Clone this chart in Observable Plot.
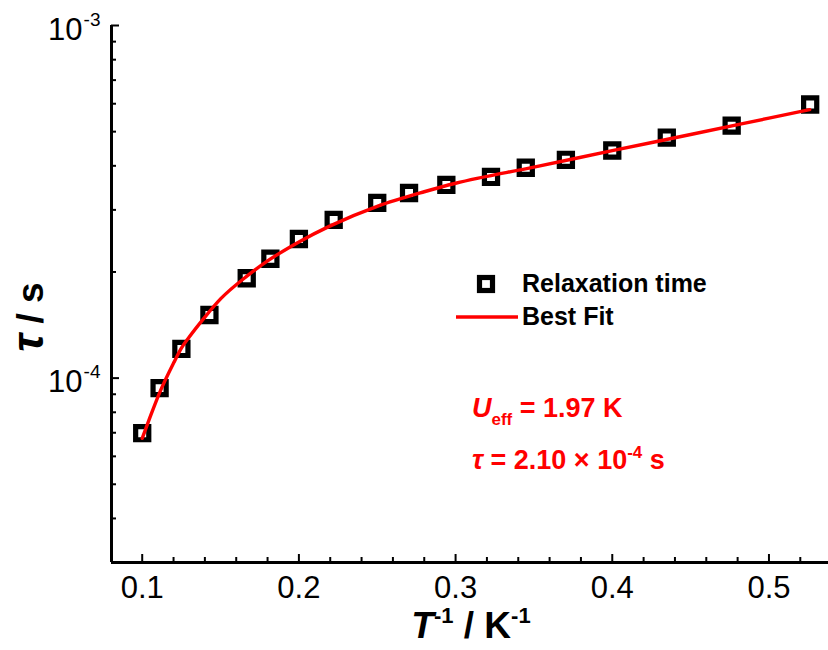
<!DOCTYPE html>
<html>
<head>
<meta charset="utf-8">
<script src="https://cdn.jsdelivr.net/npm/d3@7"></script>
<script src="https://cdn.jsdelivr.net/npm/@observablehq/plot@0.6"></script>
<style>
  html, body { margin: 0; padding: 0; background: #fff; }
  #chart svg { display: block; }
</style>
</head>
<body>
<div id="chart"></div>
<script>
// Measured points: inverse temperature (K^-1) and relaxation time (s)
const invT = [0.1, 0.1111, 0.125, 0.1429, 0.1667, 0.1818, 0.2, 0.2222, 0.25, 0.2703,
              0.2941, 0.3226, 0.3448, 0.3704, 0.4, 0.4348, 0.4762, 0.5263];
const tau = [6.98e-5, 9.37e-5, 1.21e-4, 1.51e-4, 1.92e-4, 2.18e-4, 2.48e-4, 2.81e-4, 3.14e-4, 3.35e-4,
             3.53e-4, 3.72e-4, 3.95e-4, 4.16e-4, 4.42e-4, 4.81e-4, 5.20e-4, 5.97e-4];

// Best-fit curve
const fitInvT = [0.1, 0.105, 0.111, 0.12, 0.125, 0.13, 0.14, 0.15, 0.167, 0.18,
                 0.2, 0.22, 0.25, 0.28, 0.3, 0.35, 0.4, 0.45, 0.5, 0.526];
const fitTau = [6.75e-5, 7.75e-5, 9.07e-5, 1.103e-4, 1.217e-4, 1.308e-4, 1.49e-4, 1.677e-4, 1.949e-4, 2.149e-4,
                2.434e-4, 2.703e-4, 3.071e-4, 3.377e-4, 3.57e-4, 3.968e-4, 4.415e-4, 4.909e-4, 5.461e-4, 5.772e-4];

// Axis ticks
const xMajor = [0.1, 0.2, 0.3, 0.4, 0.5];
const xMajorLabels = ["0.1", "0.2", "0.3", "0.4", "0.5"];
const xMinor = [0.12, 0.14, 0.16, 0.18, 0.22, 0.24, 0.26, 0.28, 0.32, 0.34, 0.36, 0.38,
                0.42, 0.44, 0.46, 0.48, 0.52];
const yMajor = [1e-3, 1e-4];
const yMajorExp = ["-3", "-4"];
const yMinor = [9e-4, 8e-4, 7e-4, 6e-4, 5e-4, 4e-4, 3e-4, 2e-4, 9e-5, 8e-5, 7e-5, 6e-5, 5e-5, 4e-5];
const xDomain = [0.0804, 0.538];
const yDomain = [3e-5, 1e-3];

const points = invT.map((x, i) => ({x, y: tau[i]}));
const fit = fitInvT.map((x, i) => ({x, y: fitTau[i]}));

const W = 828, H = 650, mT = 25, mL = 111, mR = 0, mB = 88;
const frameH = H - mT - mB, frameW = W - mL - mR;
const FONT = "'Liberation Sans', Arial, Helvetica, sans-serif";

const plot = Plot.plot({
  width: W, height: H,
  marginTop: mT, marginLeft: mL, marginRight: mR, marginBottom: mB,
  style: {fontFamily: FONT, background: "#fff", color: "#000", overflow: "visible"},
  x: {domain: xDomain, axis: null},
  y: {type: "log", domain: yDomain, axis: null},
  marks: [
    // ticks (inward)
    Plot.tickX(xMajor, {x: d => d, insetTop: frameH - 8, stroke: "#000", strokeWidth: 2}),
    Plot.tickX(xMinor, {x: d => d, insetTop: frameH - 5, stroke: "#000", strokeWidth: 2}),
    Plot.tickY(yMajor, {y: d => d, insetRight: frameW - 8, stroke: "#000", strokeWidth: 2}),
    Plot.tickY(yMinor, {y: d => d, insetRight: frameW - 5, stroke: "#000", strokeWidth: 2}),
    // axis lines
    Plot.ruleX([xDomain[0]], {stroke: "#000", strokeWidth: 3}),
    Plot.ruleY([yDomain[0]], {stroke: "#000", strokeWidth: 3}),
    // x tick labels
    Plot.text(xMajor, {x: d => d, frameAnchor: "bottom", text: (d, i) => xMajorLabels[i],
      dy: 35, lineAnchor: "bottom", fontSize: 31, fill: "#000"}),
    // y tick labels: "10" with superscript exponent
    Plot.text(yMajor, {y: d => d, frameAnchor: "left", text: () => "10", textAnchor: "end",
      dx: -29, dy: 14, lineAnchor: "bottom", fontSize: 31, fill: "#000"}),
    Plot.text(yMajor, {y: d => d, frameAnchor: "left", text: (d, i) => yMajorExp[i], textAnchor: "end",
      dx: -11, dy: 0, lineAnchor: "bottom", fontSize: 19, fill: "#000"}),
    // data
    Plot.dot(points, {x: "x", y: "y", symbol: "square", r: 7.4, stroke: "#000", strokeWidth: 5.2, fill: "#fff"}),
    Plot.line(fit, {x: "x", y: "y", curve: "monotone-x", stroke: "#ff0000", strokeWidth: 3.4})
  ]
});

document.getElementById("chart").appendChild(plot);

const svg = d3.select(plot);

// X axis title: T^-1 / K^-1
const xt = svg.append("text")
  .attr("x", 471).attr("y", 638)
  .attr("text-anchor", "middle")
  .attr("font-family", FONT).attr("font-weight", "bold").attr("font-size", 37).attr("fill", "#000");
xt.append("tspan").attr("font-style", "italic").text("T");
xt.append("tspan").attr("font-size", 22).attr("dy", -15).text("-1");
xt.append("tspan").attr("dy", 15).text(" / K");
xt.append("tspan").attr("font-size", 22).attr("dy", -15).text("-1");

// Y axis title: τ / s
const yt = svg.append("text")
  .attr("transform", "translate(43,317) rotate(-90)")
  .attr("text-anchor", "middle")
  .attr("font-family", FONT).attr("font-weight", "bold").attr("font-size", 37).attr("fill", "#000");
yt.append("tspan").attr("font-style", "italic").attr("font-size", 44).text("τ");
yt.append("tspan").text(" / s");

// Legend
const lg = svg.append("g").attr("font-family", FONT).attr("font-weight", "bold").attr("font-size", 25)
  .attr("text-anchor", "start");
lg.append("rect").attr("x", 486 - 6.5).attr("y", 284 - 6.5).attr("width", 13).attr("height", 13)
  .attr("fill", "#fff").attr("stroke", "#000").attr("stroke-width", 5.2);
lg.append("text").attr("x", 522).attr("y", 292).attr("fill", "#000").text("Relaxation time");
lg.append("line").attr("x1", 456).attr("x2", 518).attr("y1", 317).attr("y2", 317)
  .attr("stroke", "#ff0000").attr("stroke-width", 3.4);
lg.append("text").attr("x", 522).attr("y", 325).attr("fill", "#000").text("Best Fit");

// Annotation
const an = svg.append("g").attr("font-family", FONT).attr("font-weight", "bold").attr("font-size", 27)
  .attr("fill", "#ff0000").attr("text-anchor", "start");
const a1 = an.append("text").attr("x", 472).attr("y", 417);
a1.append("tspan").attr("font-style", "italic").text("U");
a1.append("tspan").attr("font-size", 17).attr("dy", 8).text("eff");
a1.append("tspan").attr("dy", -8).text(" = 1.97 K");
const a2 = an.append("text").attr("x", 472).attr("y", 469);
a2.append("tspan").attr("font-style", "italic").text("τ");
a2.append("tspan").text(" = 2.10 × 10");
a2.append("tspan").attr("font-size", 17).attr("dy", -11).text("-4");
a2.append("tspan").attr("dy", 11).text(" s");
</script>
</body>
</html>
